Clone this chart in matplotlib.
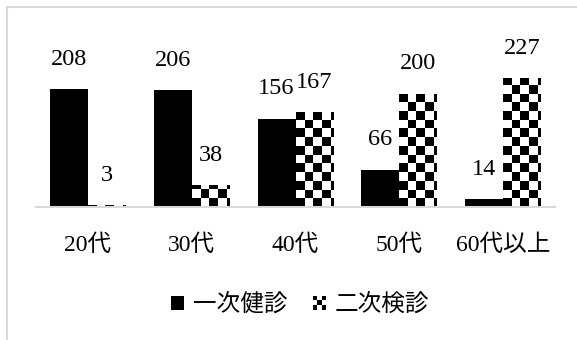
import matplotlib
matplotlib.use("Agg")
import matplotlib.pyplot as plt
import numpy as np
from matplotlib.lines import Line2D
from matplotlib.patches import Rectangle
from matplotlib.legend_handler import HandlerBase

plt.rcParams['font.family'] = ['Liberation Serif', 'Noto Sans CJK JP']

categories = ['20代', '30代', '40代', '50代', '60代以上']
first_exam = [208, 206, 156, 66, 14]
second_exam = [3, 38, 167, 200, 227]
series_names = ['一次健診', '二次検診']

W, H, DPI = 577, 340, 100
fig = plt.figure(figsize=(W / DPI, H / DPI), dpi=DPI)
ax = fig.add_axes([36 / W, (H - 207) / H, 519 / W, 170 / H])

x = np.arange(len(categories))
bw = 0.366
ymax = 300

bars1 = ax.bar(x - bw, first_exam, width=bw, align='edge', color='black', linewidth=0)
bars2 = ax.bar(x, second_exam, width=bw, align='edge', color='white', linewidth=0)

# checkerboard fill for the second series, clipped to each bar
cell = 8.7
ncols = int(round(519 / cell))
nrows = int(round(170 / cell))
ii, jj = np.indices((nrows, ncols))
checker = ((ii + jj) % 2).astype(float)
for b in bars2:
    im = ax.imshow(checker, cmap='gray', vmin=0, vmax=1, interpolation='nearest',
                   extent=(-0.5, len(categories) - 0.5, 0, nrows * cell / 170 * ymax),
                   origin='lower', aspect='auto', zorder=2)
    im.set_clip_path(b)

ax.set_xlim(-0.5, len(categories) - 0.5)
ax.set_ylim(0, ymax)

ax.bar_label(bars1, padding=14, fontsize=17.5)
ax.bar_label(bars2, padding=14, fontsize=17.5)

for s in ax.spines.values():
    s.set_visible(False)
ax.axhline(0, color='#d9d9d9', linewidth=1.5, zorder=3, clip_on=False)
ax.set_yticks([])
ax.set_xticks(x)
ax.set_xticklabels(categories, fontsize=17)
ax.tick_params(axis='x', length=0, pad=20)


class CheckerHandler(HandlerBase):
    def create_artists(self, legend, orig_handle, xdescent, ydescent,
                       width, height, fontsize, trans):
        artists = []
        cw, ch = width / 3, height / 3
        for r in range(3):
            for c in range(3):
                if (r + c) % 2 == 0:
                    artists.append(Rectangle((c * cw - xdescent, r * ch - ydescent), cw, ch,
                                             facecolor='black', linewidth=0, transform=trans))
        return artists


h1 = Rectangle((0, 0), 1, 1, facecolor='black', linewidth=0)
h2 = Rectangle((0, 0), 1, 1, facecolor='white', linewidth=0)
fig.legend([h1, h2], series_names, loc='center', bbox_to_anchor=(300 / W, (H - 305) / H),
           ncol=2, frameon=False, fontsize=17, handlelength=0.55, handleheight=0.55,
           handletextpad=0.35, columnspacing=1.1, handler_map={h2: CheckerHandler()})

# outer frame (left and top edges)
fig.add_artist(Line2D([6.5 / W, 6.5 / W], [0, (H - 7) / H], transform=fig.transFigure,
                      color='#d9d9d9', linewidth=1.5))
fig.add_artist(Line2D([6.5 / W, 1], [(H - 7) / H, (H - 7) / H], transform=fig.transFigure,
                      color='#d9d9d9', linewidth=1.5))

fig.savefig('out.png', dpi=DPI, facecolor='white')
